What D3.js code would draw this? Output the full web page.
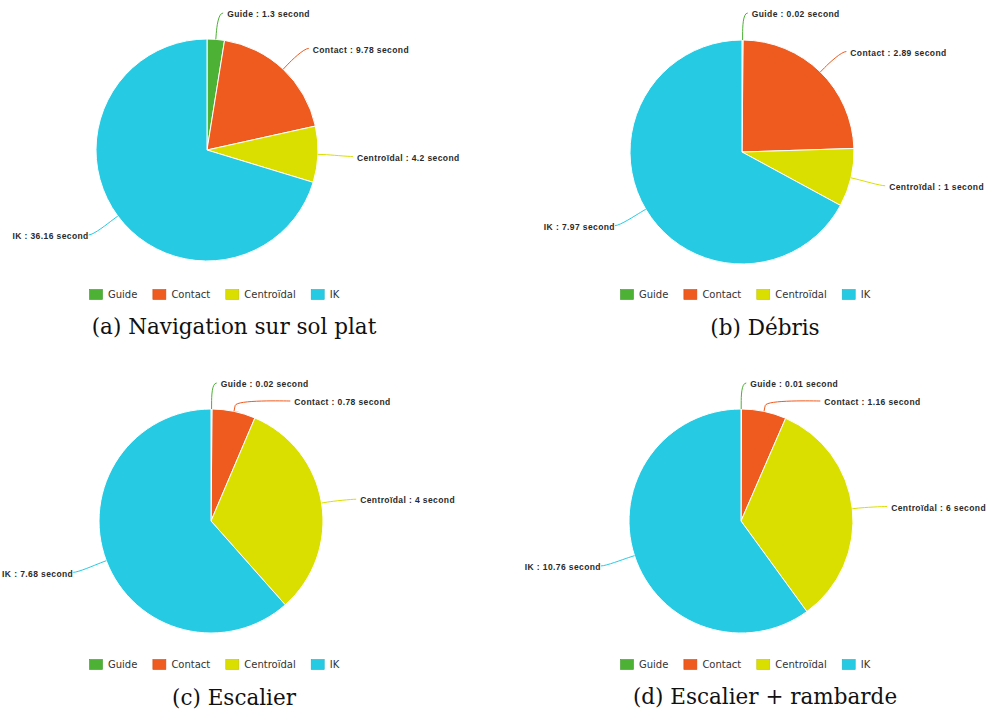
<!DOCTYPE html>
<html>
<head>
<meta charset="utf-8">
<script src="https://cdn.jsdelivr.net/npm/d3@7"></script>
<style>
  html, body { margin: 0; padding: 0; background: #fff; }
  svg { display: block; }
</style>
</head>
<body>
<svg id="chart" width="987" height="713"></svg>
<script>
// Computation time per module, in seconds, for four scenarios.
const categories = ["Guide", "Contact", "Centroïdal", "IK"];
const navigationSolPlat = [1.3, 9.78, 4.2, 36.16];
const debris = [0.02, 2.89, 1, 7.97];
const escalier = [0.02, 0.78, 4, 7.68];
const escalierRambarde = [0.01, 1.16, 6, 10.76];
const captions = ["(a) Navigation sur sol plat", "(b) Débris", "(c) Escalier", "(d) Escalier + rambarde"];
const unit = "second";

const palette = ["#4cb135", "#ef5a1e", "#dbdf00", "#26cbe3"];
const color = d3.scaleOrdinal().domain(categories).range(palette);

const series = [navigationSolPlat, debris, escalier, escalierRambarde];

// Panel layout: pie centre, radius, legend and caption placement.
const panels = [
  { cx: 207, cy: 150, r: 111, top: 0,   legendX: 89,  legendY: 294, capX: 234, capY: 334 },
  { cx: 742, cy: 152, r: 112, top: 0,   legendX: 620, legendY: 294, capX: 765, capY: 335 },
  { cx: 211, cy: 521, r: 112, top: 370, legendX: 89,  legendY: 664, capX: 234, capY: 705 },
  { cx: 741, cy: 521, r: 112, top: 370, legendX: 620, legendY: 664, capX: 765, capY: 704 }
];

const svg = d3.select("#chart");
const labelDistance = 30;
const connectorOffset = 6;
const labelSpacing = 18;

const pie = d3.pie().sort(null).value(d => d.value).startAngle(0).endAngle(2 * Math.PI);

series.forEach((values, i) => {
  const p = panels[i];
  const data = categories.map((c, k) => ({ category: c, value: values[k] }));
  const arcs = pie(data);
  const g = svg.append("g");

  const arc = d3.arc().innerRadius(0).outerRadius(p.r);

  g.append("g")
    .attr("transform", `translate(${p.cx},${p.cy})`)
    .selectAll("path")
    .data(arcs)
    .join("path")
    .attr("d", arc)
    .attr("fill", d => color(d.data.category))
    .attr("stroke", "#fff")
    .attr("stroke-width", 1)
    .attr("stroke-linejoin", "round");

  // Data label placement: natural point on a circle outside the pie,
  // pushed down when labels would overlap, clamped below the panel top.
  const R = p.r + labelDistance;
  const labels = arcs.map(a => {
    const t = (a.startAngle + a.endAngle) / 2;
    return {
      a, t,
      right: t < Math.PI,
      x: p.cx + R * Math.sin(t),
      y: p.cy - R * Math.cos(t)
    };
  });

  [true, false].forEach(side => {
    const group = labels.filter(l => l.right === side).sort((u, v) => u.y - v.y);
    let prev = -Infinity;
    group.forEach(l => {
      let y = Math.max(l.y, p.top + 12);
      if (y < prev + labelSpacing) {
        y = prev + labelSpacing;
        const dy = y - p.cy;
        const dx = Math.sqrt(Math.max(0, R * R - dy * dy));
        l.x = p.cx + (side ? dx : -dx);
      }
      l.y = y;
      prev = y;
    });
  });

  labels.forEach(l => {
    const dir = l.right ? 1 : -1;
    const sx = Math.sin(l.t), sy = -Math.cos(l.t);
    const ex = p.cx + p.r * sx, ey = p.cy + p.r * sy;
    const bx = p.cx + (p.r + connectorOffset) * sx, by = p.cy + (p.r + connectorOffset) * sy;
    const c2x = 2 * bx - ex, c2y = 2 * by - ey;
    const path = d3.path();
    path.moveTo(l.x + 5 * dir, l.y + 1);
    path.bezierCurveTo(l.x, l.y + 1, c2x, c2y, bx, by);
    path.lineTo(ex, ey);
    g.append("path")
      .attr("d", path.toString())
      .attr("fill", "none")
      .attr("stroke", color(l.a.data.category))
      .attr("stroke-width", 1);

    g.append("text")
      .attr("x", l.x + (l.right ? 9 : -5))
      .attr("y", l.y + 3)
      .attr("text-anchor", l.right ? "start" : "end")
      .attr("dominant-baseline", "middle")
      .attr("font-family", "'Liberation Sans', Arial, sans-serif")
      .attr("font-weight", "bold")
      .attr("font-size", "8.5px")
      .attr("letter-spacing", "0.4px")
      .attr("fill", "#2a2a2a")
      .text(`${l.a.data.category} : ${l.a.data.value} ${unit}`);
  });

  // Legend row
  const legend = g.append("g").attr("transform", `translate(${p.legendX},${p.legendY})`);
  let lx = 0;
  categories.forEach(c => {
    const item = legend.append("g").attr("transform", `translate(${lx},0)`);
    item.append("rect")
      .attr("x", 0.5).attr("y", -4.5)
      .attr("width", 13).attr("height", 10)
      .attr("fill", color(c))
      .attr("stroke", d3.color(color(c)).darker(0.4))
      .attr("stroke-width", 0.6);
    const t = item.append("text")
      .attr("x", 19)
      .attr("y", 0.5)
      .attr("dominant-baseline", "middle")
      .attr("font-family", "'DejaVu Sans', sans-serif")
      .attr("font-size", "10px")
      .attr("fill", "#333")
      .text(c);
    lx += 19 + t.node().getComputedTextLength() + 15;
  });

  // Sub-figure caption
  g.append("text")
    .attr("x", p.capX)
    .attr("y", p.capY)
    .attr("text-anchor", "middle")
    .attr("font-family", "'DejaVu Serif', serif")
    .attr("font-size", "21.5px")
    .attr("fill", "#111")
    .text(captions[i]);
});
</script>
</body>
</html>
